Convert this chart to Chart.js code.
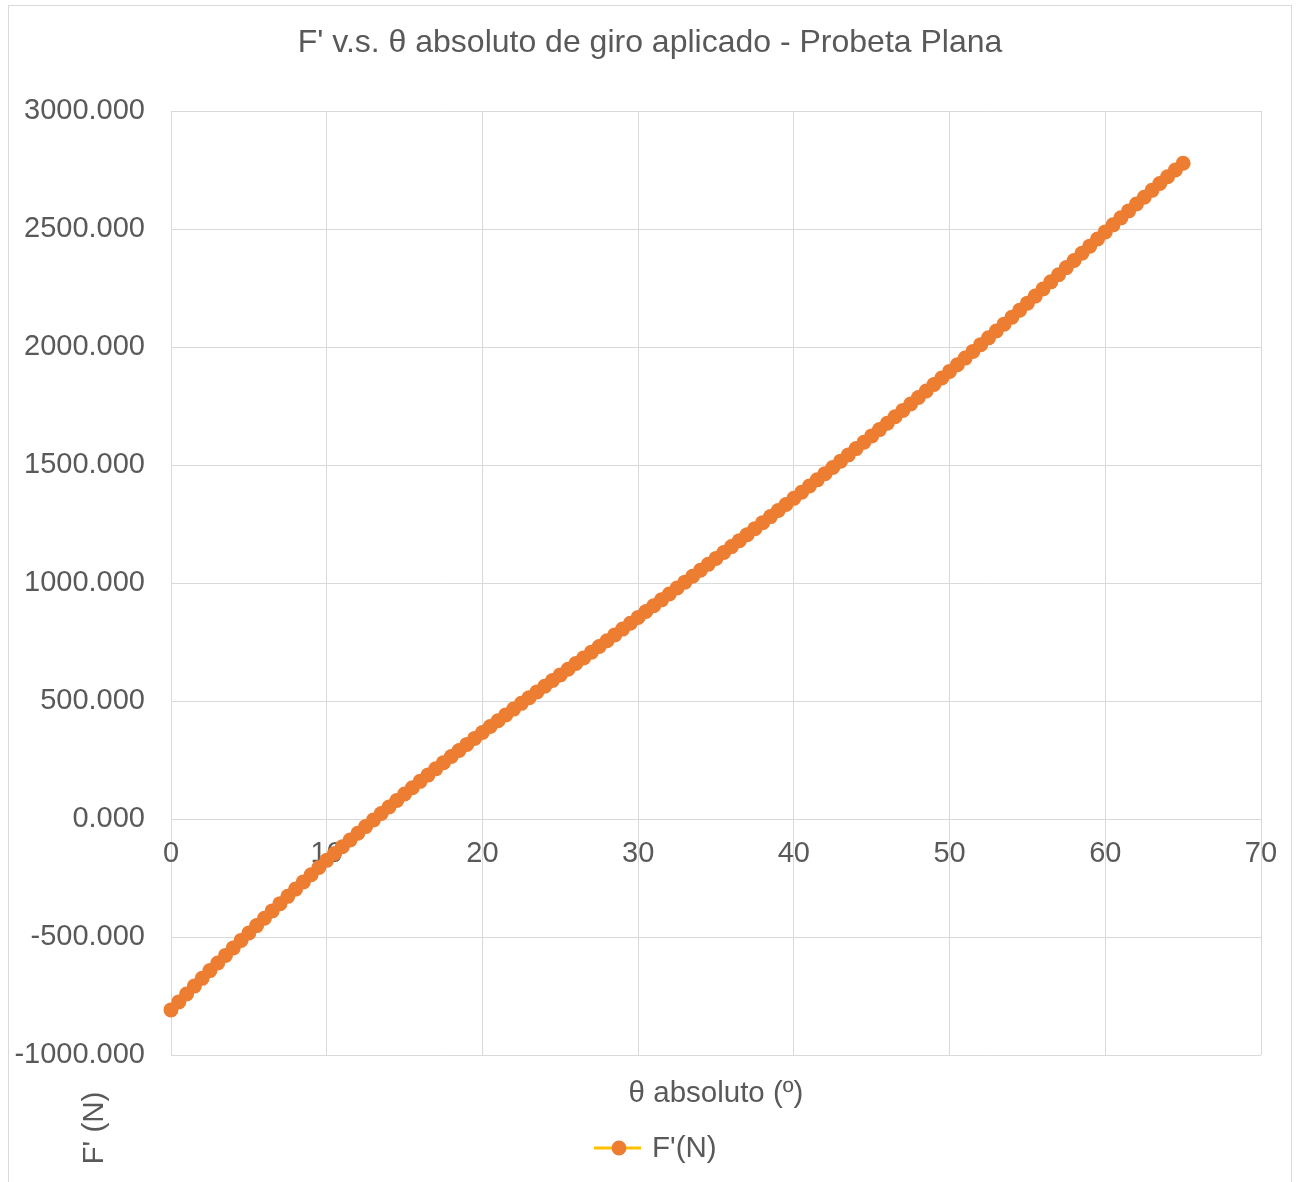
<!DOCTYPE html>
<html>
<head>
<meta charset="utf-8">
<script src="https://cdn.jsdelivr.net/npm/chart.js@4.4.1/dist/chart.umd.min.js"></script>
<style>
  html, body { margin: 0; padding: 0; background: #fff; }
  canvas { display: block; }
</style>
</head>
<body>
<canvas id="chart" width="1297" height="1182"></canvas>
<script>
// θ absoluto (º) - one reading every half degree
const thetaValues = [
  0, 0.5, 1, 1.5, 2, 2.5, 3, 3.5, 4, 4.5, 5, 5.5, 6, 6.5, 7, 7.5, 8, 8.5, 9, 9.5,
  10, 10.5, 11, 11.5, 12, 12.5, 13, 13.5, 14, 14.5, 15, 15.5, 16, 16.5, 17, 17.5, 18, 18.5, 19, 19.5,
  20, 20.5, 21, 21.5, 22, 22.5, 23, 23.5, 24, 24.5, 25, 25.5, 26, 26.5, 27, 27.5, 28, 28.5, 29, 29.5,
  30, 30.5, 31, 31.5, 32, 32.5, 33, 33.5, 34, 34.5, 35, 35.5, 36, 36.5, 37, 37.5, 38, 38.5, 39, 39.5,
  40, 40.5, 41, 41.5, 42, 42.5, 43, 43.5, 44, 44.5, 45, 45.5, 46, 46.5, 47, 47.5, 48, 48.5, 49, 49.5,
  50, 50.5, 51, 51.5, 52, 52.5, 53, 53.5, 54, 54.5, 55, 55.5, 56, 56.5, 57, 57.5, 58, 58.5, 59, 59.5,
  60, 60.5, 61, 61.5, 62, 62.5, 63, 63.5, 64, 64.5, 65
];

// F'(N)
const forceValues = [
  -809.0, -775.0, -741.4, -708.1, -675.1, -642.4, -610.0, -577.9, -546.1, -514.5,
  -483.0, -451.7, -420.5, -389.5, -358.6, -327.8, -297.1, -266.5, -236.0, -205.6,
  -175.3, -146.3, -117.5, -88.9, -60.5, -32.3, -4.3, 23.5, 51.1, 78.5,
  105.7, 132.7, 159.5, 186.1, 212.5, 238.7, 264.7, 290.5, 316.1, 341.5,
  366.7, 391.7, 416.5, 441.1, 465.6, 490.0, 514.3, 538.5, 562.6, 586.6,
  610.6, 634.6, 658.6, 682.7, 706.9, 731.2, 755.6, 780.1, 804.7, 829.4,
  854.2, 879.0, 903.8, 928.7, 953.6, 978.6, 1003.6, 1028.7, 1053.8, 1079.0,
  1104.2, 1129.2, 1154.3, 1179.5, 1204.8, 1230.2, 1255.7, 1281.3, 1307.0, 1332.8,
  1358.7, 1384.7, 1410.8, 1437.0, 1463.3, 1489.7, 1516.2, 1542.8, 1569.5, 1596.3,
  1623.2, 1650.1, 1677.1, 1704.2, 1731.4, 1758.7, 1786.1, 1813.6, 1841.2, 1868.9,
  1896.7, 1924.7, 1952.9, 1981.3, 2009.9, 2038.7, 2067.7, 2096.9, 2126.3, 2155.9,
  2185.7, 2215.7, 2245.8, 2276.0, 2306.2, 2336.5, 2366.8, 2397.1, 2427.4, 2457.6,
  2487.8, 2517.6, 2547.2, 2576.6, 2605.8, 2634.8, 2663.7, 2692.5, 2721.2, 2749.8,
  2778.3
];

const chartTitle = "F' v.s. θ absoluto de giro aplicado - Probeta Plana";
const xTitle = "θ absoluto (º)";
const yTitle = "F' (N)";
const seriesName = "F'(N)";

const textColor = '#595959';
const gridColor = '#d9d9d9';
const markerColor = '#ED7D31';
const lineColor = '#FFC000';
const fontFamily = '"Liberation Sans", Arial, sans-serif';

const points = thetaValues.map((t, i) => ({ x: t, y: forceValues[i] }));

// title, axis titles, legend and the outer frame
const extras = {
  id: 'extras',
  beforeDraw(chart) {
    const ctx = chart.ctx;
    ctx.save();
    ctx.fillStyle = '#fff';
    ctx.fillRect(0, 0, chart.width, chart.height);
    ctx.strokeStyle = gridColor;
    ctx.lineWidth = 1;
    ctx.strokeRect(8.5, 5.5, 1283, 1200);
    ctx.restore();
  },
  afterDraw(chart) {
    const ctx = chart.ctx;
    const area = chart.chartArea;
    ctx.save();
    ctx.fillStyle = textColor;
    ctx.textBaseline = 'middle';
    ctx.textAlign = 'center';

    ctx.font = '32px ' + fontFamily;
    ctx.fillText(chartTitle, 650, 43);

    ctx.font = '29.5px ' + fontFamily;
    ctx.fillText(xTitle, (area.left + area.right) / 2, 1094);

    ctx.save();
    ctx.translate(95, 1128);
    ctx.rotate(-Math.PI / 2);
    ctx.fillText(yTitle, 0, 0);
    ctx.restore();

    // legend
    ctx.strokeStyle = lineColor;
    ctx.lineWidth = 3;
    ctx.beginPath();
    ctx.moveTo(594, 1148);
    ctx.lineTo(641, 1148);
    ctx.stroke();
    ctx.fillStyle = markerColor;
    ctx.beginPath();
    ctx.arc(619, 1148, 7.5, 0, Math.PI * 2);
    ctx.fill();
    ctx.fillStyle = textColor;
    ctx.textAlign = 'left';
    ctx.fillText(seriesName, 652, 1149);
    ctx.restore();
  }
};

new Chart(document.getElementById('chart'), {
  type: 'line',
  data: {
    datasets: [{
      label: seriesName,
      data: points,
      borderColor: lineColor,
      borderWidth: 3,
      backgroundColor: markerColor,
      pointBackgroundColor: markerColor,
      pointBorderWidth: 0,
      pointRadius: 7.5,
      tension: 0,
      fill: false,
      clip: false
    }]
  },
  options: {
    responsive: false,
    animation: false,
    layout: { padding: { top: 111, right: 36, bottom: 127, left: 0 } },
    plugins: {
      legend: { display: false },
      title: { display: false },
      tooltip: { enabled: false }
    },
    scales: {
      x: {
        type: 'linear',
        position: { y: 0 },
        min: 0,
        max: 70,
        ticks: {
          stepSize: 10,
          color: textColor,
          font: { size: 29, family: fontFamily },
          padding: 18,
          maxRotation: 0
        },
        grid: { color: gridColor, lineWidth: 1, drawTicks: false },
        border: { display: false }
      },
      y: {
        type: 'linear',
        position: 'left',
        min: -1000,
        max: 3000,
        afterFit(scale) { scale.width = 171; },
        ticks: {
          stepSize: 500,
          color: textColor,
          font: { size: 29, family: fontFamily },
          padding: 26,
          callback: v => v.toFixed(3)
        },
        grid: { color: gridColor, lineWidth: 1, drawTicks: false },
        border: { display: false }
      }
    }
  },
  plugins: [extras]
});
</script>
</body>
</html>
